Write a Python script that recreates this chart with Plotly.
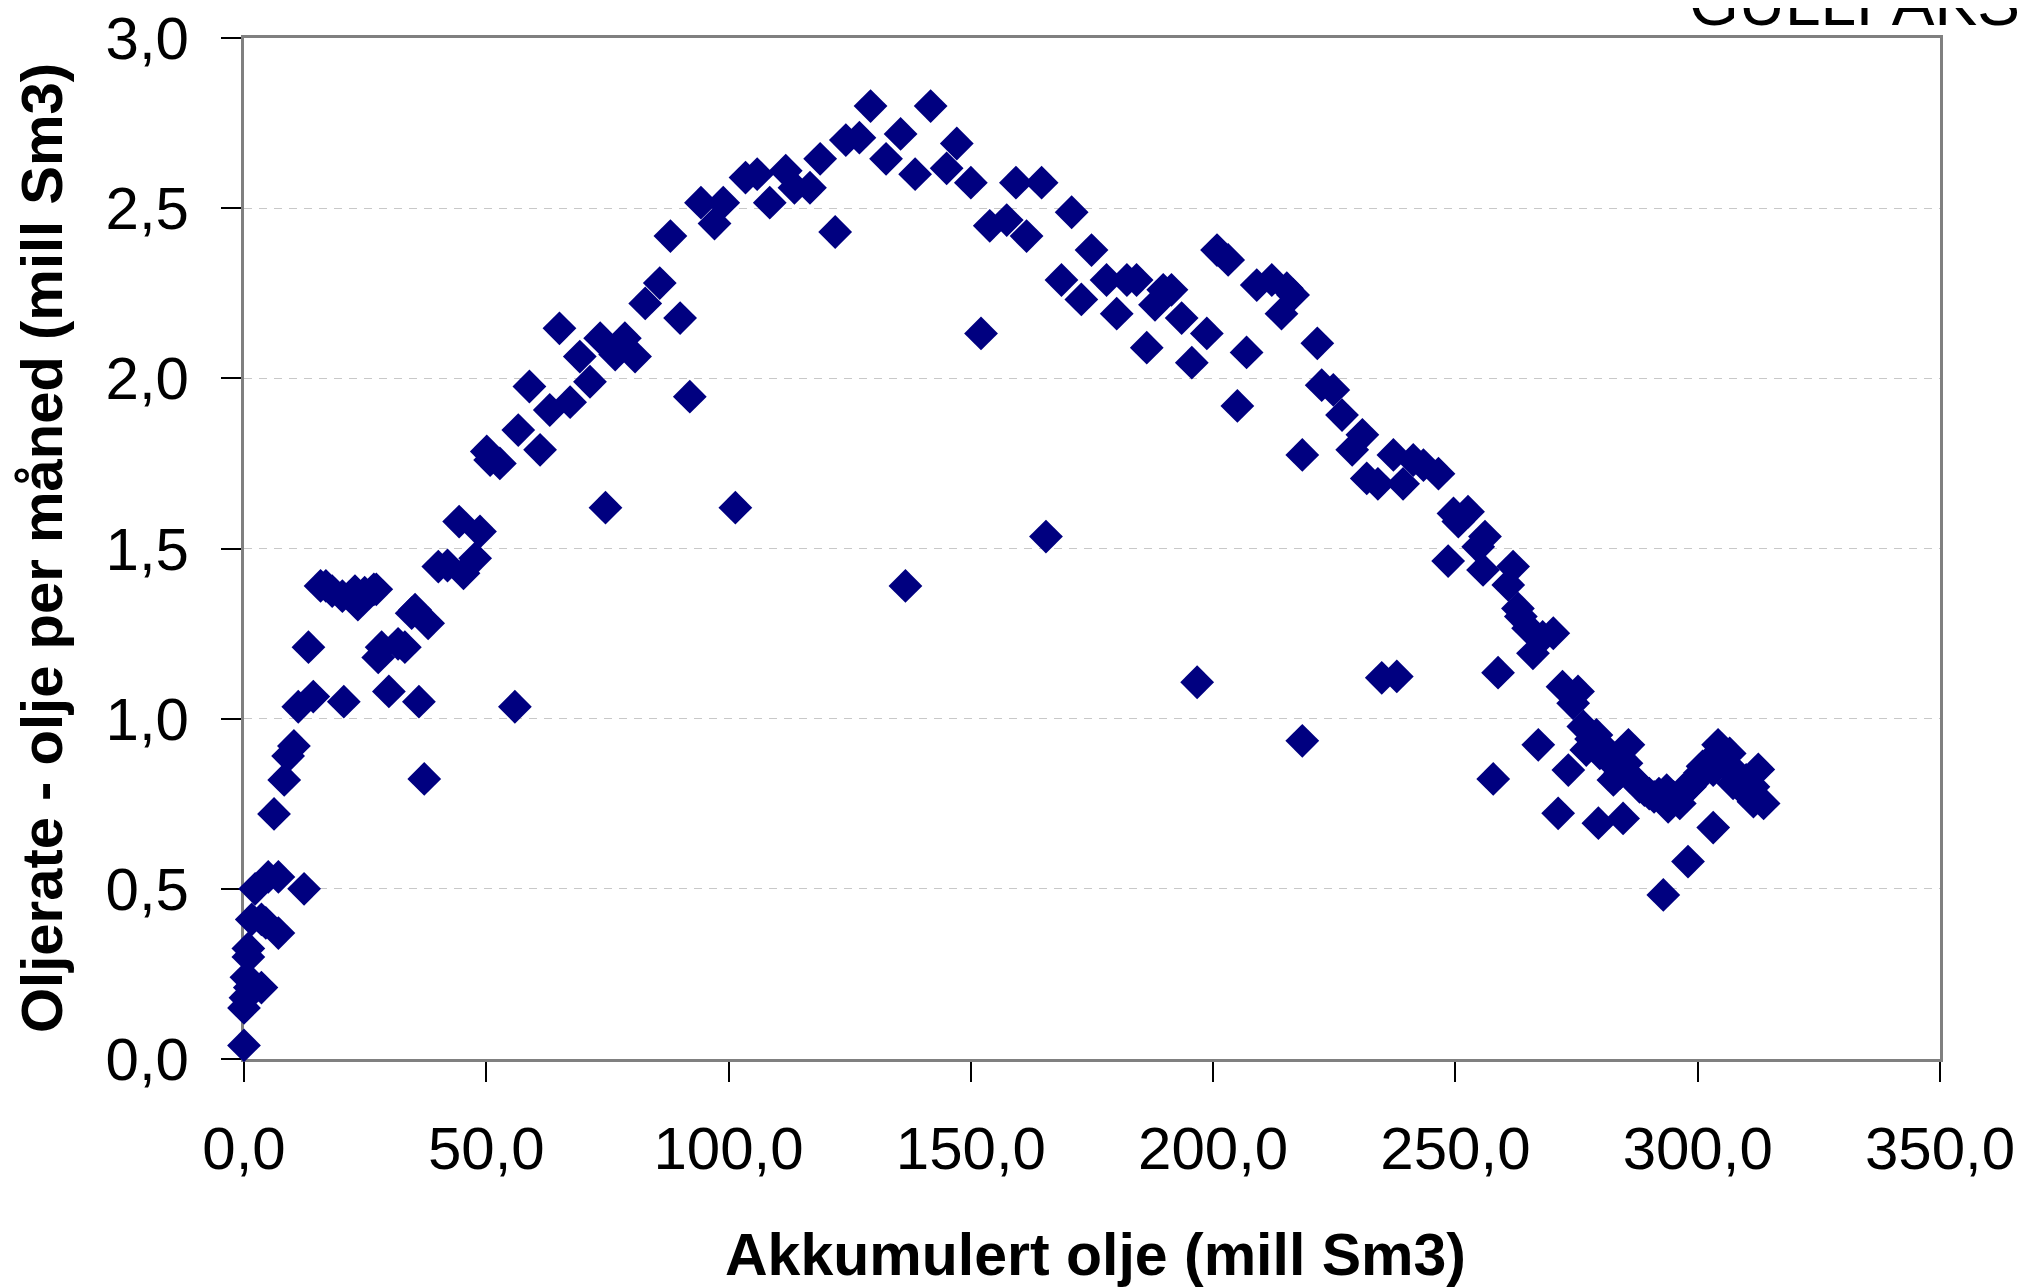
import plotly.graph_objects as go

# Akkumulert olje (mill Sm3)
akkumulert = [
    0.0, 0.0, 0.3, 0.5, 0.9, 0.9, 1.2, 1.6, 2.3, 3.6, 3.6, 5.0, 4.5, 7.1, 7.1,
    6.2, 8.3, 9.1, 10.3, 11.2, 12.4, 13.3, 14.3, 15.8, 16.9, 18.2, 20.3, 20.6,
    22.9, 23.5, 24.9, 26.8, 27.3, 27.7, 28.4, 29.9, 31.8, 33.2, 34.6, 35.3,
    36.1, 37.2, 38.0, 40.1, 42.0, 44.4, 45.3, 47.7, 48.7, 50.1, 50.8, 52.8,
    55.9, 56.6, 58.9, 61.1, 63.1, 65.1, 67.3, 69.3, 71.4, 73.5, 74.6, 76.6,
    78.6, 80.7, 82.8, 85.8, 88.0, 90.0, 92.0, 94.3, 97.1, 98.9, 101.4, 103.5,
    105.9, 108.5, 111.8, 113.6, 116.8, 118.9, 122.0, 124.2, 127.0, 129.3,
    132.5, 135.5, 136.5, 138.5, 141.7, 145.0, 147.1, 150.0, 152.1, 153.9,
    157.4, 159.3, 161.5, 164.6, 165.5, 168.7, 170.8, 172.8, 174.9, 178.0,
    180.1, 182.2, 184.2, 186.3, 188.0, 189.7, 191.4, 193.5, 195.6, 196.7,
    198.7, 200.8, 203.1, 205.0, 206.9, 209.0, 212.1, 214.1, 215.2, 216.5,
    218.4, 218.4, 221.5, 222.4, 224.8, 226.6, 228.7, 230.8, 231.7, 234.0,
    234.8, 237.2, 237.9, 239.2, 241.3, 243.4, 246.5, 248.5, 249.6, 250.6,
    252.6, 254.7, 255.7, 256.1, 257.8, 258.8, 260.9, 261.9, 262.9, 263.5,
    265.0, 266.0, 267.1, 268.0, 270.2, 271.2, 272.1, 273.3, 274.3, 275.3,
    276.4, 277.0, 278.0, 279.1, 279.5, 279.8, 281.0, 282.6, 282.6, 283.0,
    284.0, 284.6, 285.3, 285.7, 286.0, 287.0, 288.0, 289.0, 290.0, 291.0,
    292.0, 292.9, 293.6, 293.9, 294.0, 295.0, 296.3, 297.0, 298.0, 298.4,
    299.0, 300.0, 300.4, 301.0, 302.0, 303.2, 303.2, 304.2, 305.0, 306.0,
    306.6, 307.3, 308.0, 309.4, 310.0, 311.5, 311.5, 312.5, 313.6,
]

# Oljerate - olje per måned (mill Sm3)
oljerate = [
    0.04, 0.15, 0.18, 0.24, 0.30, 0.325, 0.21, 0.41, 0.50, 0.21, 0.41, 0.535,
    0.40, 0.535, 0.37, 0.72, 0.82, 0.89, 0.92, 1.035, 0.50, 1.21, 1.065, 1.39,
    1.39, 1.375, 1.36, 1.05, 1.375, 1.335, 1.37, 1.38, 1.38, 1.18, 1.21, 1.08,
    1.22, 1.21, 1.31, 1.32, 1.05, 0.823, 1.28, 1.447, 1.45, 1.579, 1.427,
    1.471, 1.55, 1.785, 1.76, 1.75, 1.035, 1.848, 1.976, 1.79, 1.907, 2.147,
    1.93, 2.064, 1.99, 2.118, 1.62, 2.07, 2.118, 2.064, 2.22, 2.28, 2.418,
    2.177, 1.946, 2.516, 2.455, 2.516, 1.62, 2.59, 2.60, 2.516, 2.61, 2.56,
    2.56, 2.645, 2.43, 2.70, 2.707, 2.80, 2.645, 2.718, 1.39, 2.60, 2.80,
    2.617, 2.69, 2.575, 2.132, 2.448, 2.465, 2.575, 2.418, 2.575, 1.535,
    2.289, 2.488, 2.232, 2.377, 2.289, 2.19, 2.289, 2.289, 2.09, 2.216, 2.26,
    2.26, 2.177, 2.046, 1.107, 2.132, 2.377, 2.348, 1.919, 2.076, 2.274,
    2.289, 2.19, 2.265, 2.245, 1.775, 0.935, 2.103, 1.98, 1.966, 1.892, 1.79,
    1.834, 1.706, 1.69, 1.12, 1.775, 1.124, 1.69, 1.76, 1.745, 1.72, 1.463,
    1.603, 1.579, 1.608, 1.505, 1.437, 1.535, 0.823, 1.135, 1.393, 1.447,
    1.324, 1.30, 1.266, 1.192, 0.923, 1.24, 1.251, 0.722, 1.094, 0.849, 1.045,
    1.08, 0.977, 0.908, 0.94, 0.952, 0.693, 0.898, 0.91, 0.879, 0.82, 0.86,
    0.84, 0.707, 0.869, 0.923, 0.83, 0.82, 0.80, 0.79, 0.78, 0.77, 0.78,
    0.482, 0.79, 0.741, 0.76, 0.77, 0.751, 0.79, 0.58, 0.80, 0.81, 0.83, 0.84,
    0.86, 0.87, 0.849, 0.68, 0.923, 0.88, 0.86, 0.898, 0.81, 0.84, 0.79,
    0.82, 0.80, 0.756, 0.851, 0.751,
]

x_tick_vals = [0, 50, 100, 150, 200, 250, 300, 350]
y_tick_vals = [0, 0.5, 1.0, 1.5, 2.0, 2.5, 3.0]

x_title = "Akkumulert olje (mill Sm3)"
y_title = "Oljerate - olje per måned (mill Sm3)"
chart_label = "GULLFAKS"

FONT = "Liberation Sans, Arial, sans-serif"

# page offset (default body margin of the html page)
OFF = 8
W, H = 2032 - OFF, 1288 - OFF
# desired plot-area edges in page pixels
PX0, PX1, PY0, PY1 = 244, 1940, 38, 1059
L, T = PX0 - OFF, PY0 - OFF
R, B = W - (PX1 - OFF), H - (PY1 - OFF)
pw, ph = W - L - R, H - T - B


def px_to_paper_x(px):
    return (px - PX0) / pw


def py_to_paper_y(py):
    return (PY1 - py) / ph


fig = go.Figure()
fig.add_trace(go.Scatter(
    x=akkumulert, y=oljerate, mode="markers",
    marker=dict(symbol="diamond", size=26, color="#000080", line=dict(width=0)),
    cliponaxis=False, showlegend=False,
))

fig.update_layout(
    width=W, height=H,
    margin=dict(l=L, r=R, t=T, b=B, autoexpand=False),
    paper_bgcolor="white", plot_bgcolor="white",
    separators=", ",
    font=dict(family=FONT, size=60, color="black"),
    xaxis=dict(
        range=[0, 350], tickvals=x_tick_vals, tickformat=".1f",
        showgrid=False, zeroline=False,
        showline=True, linecolor="#808080", linewidth=3, mirror=True,
        ticks="outside", ticklen=20, tickwidth=1.5, tickcolor="black",
        ticklabelstandoff=15, layer="below traces", ticklabeloverflow="allow",
        tickfont=dict(family=FONT, size=60, color="black"),
    ),
    yaxis=dict(
        range=[0, 3], tickvals=y_tick_vals, tickformat=".1f",
        showgrid=True, gridcolor="#c8c8c8", gridwidth=1, griddash="8px,7px",
        zeroline=False,
        showline=True, linecolor="#808080", linewidth=3, mirror=True,
        ticks="outside", ticklen=20, tickwidth=1.5, tickcolor="black",
        ticklabelstandoff=20, layer="below traces", ticklabeloverflow="allow",
        tickfont=dict(family=FONT, size=60, color="black"),
    ),
    annotations=[
        dict(text=x_title, xref="paper", yref="paper",
             x=px_to_paper_x(1095), y=py_to_paper_y(1255),
             xanchor="center", yanchor="middle", showarrow=False,
             font=dict(family=FONT, size=59, color="black", weight="bold")),
        dict(text=y_title, xref="paper", yref="paper",
             x=px_to_paper_x(41), y=py_to_paper_y(548), textangle=-90,
             xanchor="center", yanchor="middle", showarrow=False,
             font=dict(family=FONT, size=58, color="black", weight="bold")),
        dict(text=chart_label, xref="paper", yref="paper",
             x=px_to_paper_x(1687), y=py_to_paper_y(3),
             xanchor="left", yanchor="middle", showarrow=False,
             font=dict(family=FONT, size=64, color="black")),
    ],
)

fig.write_html("out.html")
